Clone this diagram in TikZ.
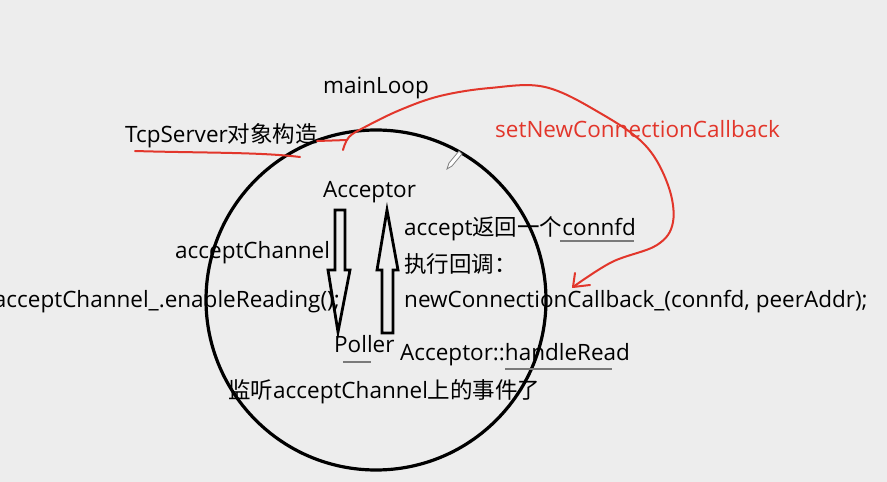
\documentclass[tikz,border=0pt]{standalone}
\usepackage{fontspec}
\setmainfont{Open Sans}
\newfontfamily\cjk{Noto Sans CJK SC}
\definecolor{bg}{HTML}{EDEDED}
\definecolor{pen}{HTML}{E2362B}
\definecolor{ul}{HTML}{7A7A7A}
\begin{document}
\begin{tikzpicture}[x=1pt,y=-1pt,
  txt/.style={inner sep=0pt, anchor=base west, font=\fontsize{22.5}{26}\selectfont},
  rtxt/.style={txt, text=pen},
  redpen/.style={draw=pen, line width=2pt, line cap=round, line join=round},
  blockarrow/.style={draw=black, line width=2.8pt, line join=miter},
  underl/.style={draw=ul, line width=1.1pt}]
\fill[bg] (0,0) rectangle (887,482);
\useasboundingbox (0,0) rectangle (887,482);

% big circle
\draw[line width=3.2pt] (376,300) circle[radius=170];

% texts
\node[txt] (mainloop) at (323,93) {mainLoop};
\node[txt] (tcp) at (125,142) {TcpServer{\cjk 对象构造}};
\node[rtxt] (setcb) at (495,137) {setNewConnectionCallback};
\node[txt] (acceptor) at (323,197) {Acceptor};
\node[txt] (achan) at (175,258) {acceptChannel};
\node[txt, anchor=base east] (enable) at (340,307) {acceptChannel\_.enableReading();};
\node[txt] (ret) at (404,235) {accept{\cjk 返回一个}connfd};
\node[txt] (exec) at (404,272) {{\cjk 执行回调：}};
\node[txt] (newcb) at (404,307) {newConnectionCallback\_(connfd, peerAddr);};
\node[txt] (poller) at (334,352) {Poller};
\node[txt] (handle) at (400,360) {Acceptor::handleRead};
\node[txt] (listen) at (228,398) {{\cjk 监听}acceptChannel{\cjk 上的事件了}};

% gray underlines
\draw[underl] (560,241) -- (634,241);
\draw[underl] (343,362) -- (371,362);
\draw[underl] (505,369) -- (612,369);

% hollow block arrows
\draw[blockarrow] (335,210) -- (345,210) -- (345,270) -- (350,270) -- (338,332) -- (328,270) -- (335,270) -- cycle;
\draw[blockarrow] (382,333) -- (393,333) -- (393,270) -- (398,270) -- (387,210) -- (377,270) -- (382,270) -- cycle;

% red hand strokes
\draw[redpen] (135,151) .. controls (200,153) and (260,152) .. (300,157);
\draw[redpen] (317,141) -- (347,140);
\coordinate (rstart) at (343,150);
\coordinate (rend) at (573,287);
\draw[redpen] plot[smooth, tension=0.6] coordinates {(rstart) (349,137) (365,127) (400,110) (440,96) (490,88) (545,87) (600,113) (645,145) (668,185) (673,222) (657,245) (612,262) (rend)};
\draw[redpen] (575,273) -- (rend) -- (590,285);

% pencil cursor
\draw[gray, line width=0.8pt, fill=white] (447,169) -- (449,163) -- (459,151) -- (462,154) -- (452,166) -- cycle;
\end{tikzpicture}
\end{document}
